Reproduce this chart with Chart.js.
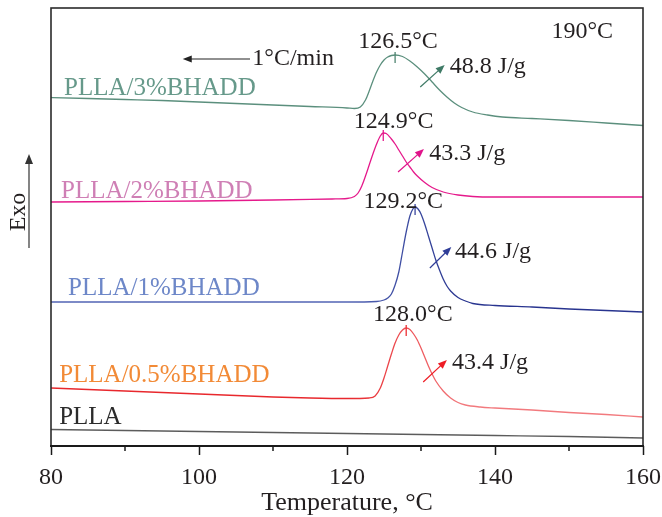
<!DOCTYPE html>
<html>
<head>
<meta charset="utf-8">
<script src="https://cdn.jsdelivr.net/npm/chart.js@4.4.1/dist/chart.umd.min.js"></script>
<style>
html,body{margin:0;padding:0;background:#ffffff;}
canvas{display:block;}
</style>
</head>
<body>
<canvas id="chart" width="662" height="517"></canvas>
<script>
// ---- Data (temperature in °C, heat flow in arbitrary units, Exo up) ----
const xTickValues = [80, 90, 100, 110, 120, 130, 140, 150, 160];
const xLabelValues = [80, 100, 120, 140, 160];

const tempPLLA = [80, 90, 100, 110, 120, 130, 140, 150, 160];
const heatPLLA = [1.65, 1.55, 1.45, 1.35, 1.25, 1.15, 1.05, 0.95, 0.8];

const temp05 = [80, 85, 90, 95, 100, 105, 110, 115, 120, 123, 123.8, 124.5, 125, 125.5, 126, 126.5, 127, 127.5, 128, 128.5, 129, 129.5, 130, 130.5, 131, 131.5, 132, 133, 134, 135, 136, 138, 140, 145, 150, 155, 160];
const heat05 = [5.8, 5.65, 5.5, 5.35, 5.2, 5.05, 4.9, 4.8, 4.75, 4.8, 5.0, 5.8, 6.8, 8.0, 9.2, 10.3, 11.1, 11.6, 11.8, 11.65, 11.2, 10.6, 9.8, 8.9, 8.0, 7.2, 6.5, 5.5, 4.8, 4.35, 4.1, 3.9, 3.8, 3.6, 3.35, 3.15, 2.9];

const temp1 = [80, 90, 100, 110, 120, 124, 125, 125.5, 126, 126.5, 127, 127.5, 128, 128.5, 128.9, 129.2, 129.6, 130, 130.5, 131, 131.5, 132, 132.5, 133, 133.5, 134, 135, 136, 137, 140, 145, 150, 155, 160];
const heat1 = [14.4, 14.4, 14.4, 14.4, 14.4, 14.45, 14.6, 14.8, 15.2, 16.1, 17.4, 19.4, 21.4, 23.0, 23.7, 23.9, 23.7, 23.2, 22.2, 21.0, 19.8, 18.6, 17.6, 16.7, 16.0, 15.5, 14.85, 14.5, 14.25, 14.05, 13.9, 13.7, 13.55, 13.4];

const temp2 = [80, 90, 100, 110, 118, 120, 121, 121.5, 122, 122.5, 123, 123.5, 124, 124.5, 124.9, 125.3, 126, 126.5, 127, 127.5, 128, 128.5, 129, 129.5, 130.5, 131.5, 133, 135, 137, 140, 150, 160];
const heat2 = [24.4, 24.45, 24.5, 24.6, 24.7, 24.75, 24.95, 25.3, 26.0, 27.0, 28.1, 29.2, 30.2, 31.0, 31.3, 31.25, 30.7, 30.2, 29.6, 29.0, 28.4, 27.9, 27.4, 27.0, 26.35, 25.85, 25.4, 25.1, 24.95, 24.9, 24.9, 24.9];

const temp3 = [80, 85, 90, 95, 100, 105, 110, 115, 120, 121, 121.8, 122.5, 123, 123.5, 124, 124.5, 125, 125.5, 126, 126.5, 127.5, 128.5, 129.5, 130.5, 131.5, 132.5, 133.5, 134.5, 135.5, 137, 139, 141, 145, 150, 155, 160];
const heat3 = [34.85, 34.75, 34.65, 34.55, 34.4, 34.25, 34.1, 33.95, 33.8, 33.75, 33.9, 34.6, 35.5, 36.5, 37.4, 38.1, 38.6, 38.9, 39.05, 39.1, 38.95, 38.5, 37.9, 37.2, 36.4, 35.6, 34.9, 34.3, 33.85, 33.4, 33.1, 32.9, 32.75, 32.55, 32.3, 32.05];

const seriesNames = ['PLLA', 'PLLA/0.5%BHADD', 'PLLA/1%BHADD', 'PLLA/2%BHADD', 'PLLA/3%BHADD'];
const peakTemps = [126.5, 124.9, 129.2, 128.0];
const peakHeats = [39.1, 31.3, 23.9, 11.8];
const peakLabels = ['126.5°C', '124.9°C', '129.2°C', '128.0°C'];
const enthalpyLabels = ['48.8 J/g', '43.3 J/g', '44.6 J/g', '43.4 J/g'];

// ---- Styles & annotation placement ----
const SERIF = '"Liberation Serif", "Times New Roman", serif';
const TEXT = '#231f20';
const lineColorsLeft = ['#5c5c5c', '#e8282d', '#5264b4', '#e5198b', '#5b8f7d'];
const lineColorsRight = ['#5c5c5c', '#f27a7e', '#28348f', '#e5198b', '#5b8f7d'];
const nameColors = ['#2b2b2b', '#f28a36', '#6d87c8', '#cf7fb5', '#66998a'];
const nameAnchors = [[81.1, 2.9], [81.1, 7.1], [82.3, 15.8], [81.35, 25.5], [81.76, 35.8]];
// peak annotations order: 3%, 2%, 1%, 0.5%
const peakColors = ['#4f8470', '#e5198b', '#3a479e', '#ee2f34'];
const arrowColors = ['#3f7a66', '#e0138a', '#2f3d98', '#ee1c25'];
const peakLabelAnchors = [[126.9, 40.4], [126.3, 32.4], [127.6, 24.4], [128.9, 13.1]];
const arrowFrom = [[129.9, 35.9], [126.9, 27.4], [131.2, 17.8], [130.3, 6.4]];
const arrowTo = [[133.2, 38.1], [130.4, 29.7], [134.1, 19.9], [133.5, 8.6]];
const enthalpyAnchors = [[133.9, 37.9], [131.1, 29.2], [134.6, 19.4], [134.2, 8.3]];

const temps = [tempPLLA, temp05, temp1, temp2, temp3];
const heats = [heatPLLA, heat05, heat1, heat2, heat3];

function lineColor(k) {
  return function(c) {
    const area = c.chart.chartArea;
    if (!area) return lineColorsLeft[k];
    const g = c.chart.ctx.createLinearGradient(area.left, 0, area.right, 0);
    g.addColorStop(0, lineColorsLeft[k]);
    g.addColorStop(0.5, lineColorsLeft[k]);
    g.addColorStop(0.7, lineColorsRight[k]);
    g.addColorStop(1, lineColorsRight[k]);
    return g;
  };
}

const datasets = seriesNames.map((n, k) => ({
  label: n,
  data: temps[k].map((t, i) => ({x: t, y: heats[k][i]})),
  borderColor: lineColor(k),
  borderWidth: 1.3,
  pointRadius: 0,
  fill: false,
  cubicInterpolationMode: 'monotone'
}));

function arrow(ctx, x1, y1, x2, y2, color, head) {
  const ang = Math.atan2(y2 - y1, x2 - x1);
  ctx.strokeStyle = color; ctx.fillStyle = color; ctx.lineWidth = 1.2;
  ctx.beginPath(); ctx.moveTo(x1, y1);
  ctx.lineTo(x2 - Math.cos(ang) * head * 0.6, y2 - Math.sin(ang) * head * 0.6); ctx.stroke();
  ctx.beginPath();
  ctx.moveTo(x2, y2);
  ctx.lineTo(x2 - head * Math.cos(ang) + head * 0.4 * Math.sin(ang), y2 - head * Math.sin(ang) - head * 0.4 * Math.cos(ang));
  ctx.lineTo(x2 - head * Math.cos(ang) - head * 0.4 * Math.sin(ang), y2 - head * Math.sin(ang) + head * 0.4 * Math.cos(ang));
  ctx.closePath(); ctx.fill();
}

const decor = {
  id: 'decor',
  afterDraw(chart) {
    const {ctx, chartArea: a, scales: {x, y}} = chart;
    const X = v => x.getPixelForValue(v), Y = v => y.getPixelForValue(v);
    ctx.save();
    // frame
    ctx.strokeStyle = '#2b2b2b'; ctx.lineWidth = 1.6;
    ctx.strokeRect(a.left, a.top, a.right - a.left, a.bottom - a.top);
    ctx.lineWidth = 2.2; ctx.strokeStyle = '#1a1a1a';
    ctx.beginPath(); ctx.moveTo(a.left - 1, a.bottom); ctx.lineTo(a.right + 1, a.bottom); ctx.stroke();
    // minor ticks
    ctx.lineWidth = 1.5;
    xTickValues.filter(v => xLabelValues.indexOf(v) < 0).forEach(v => {
      const px = X(v);
      ctx.beginPath(); ctx.moveTo(px, a.bottom); ctx.lineTo(px, a.bottom + 5); ctx.stroke();
    });
    // peak marks
    peakTemps.forEach((t, i) => {
      const px = X(t), py = Y(peakHeats[i]);
      ctx.strokeStyle = peakColors[i]; ctx.lineWidth = 1.3;
      ctx.beginPath(); ctx.moveTo(px, py - 3); ctx.lineTo(px, py + 8); ctx.stroke();
    });
    // enthalpy arrows
    arrowFrom.forEach((f, i) => {
      arrow(ctx, X(f[0]), Y(f[1]), X(arrowTo[i][0]), Y(arrowTo[i][1]), arrowColors[i], 9);
    });
    // texts
    ctx.font = '24px ' + SERIF;
    ctx.textBaseline = 'middle';
    ctx.fillStyle = TEXT;
    ctx.textAlign = 'center';
    peakLabels.forEach((s, i) => ctx.fillText(s, X(peakLabelAnchors[i][0]), Y(peakLabelAnchors[i][1])));
    ctx.textAlign = 'left';
    enthalpyLabels.forEach((s, i) => ctx.fillText(s, X(enthalpyAnchors[i][0]), Y(enthalpyAnchors[i][1])));
    ctx.font = '25px ' + SERIF;
    seriesNames.forEach((s, i) => {
      ctx.fillStyle = nameColors[i];
      ctx.fillText(s, X(nameAnchors[i][0]), Y(nameAnchors[i][1]));
    });
    ctx.font = '24px ' + SERIF;
    ctx.fillStyle = TEXT;
    ctx.textAlign = 'center';
    ctx.fillText('190°C', X(151.8), Y(41.4));
    ctx.textAlign = 'left';
    ctx.fillText('1°C/min', X(107.2), Y(38.7));
    arrow(ctx, X(106.9), Y(38.7), X(97.8), Y(38.7), '#222', 9);
    // Exo axis label with arrow
    ctx.save();
    ctx.translate(a.left - 26, 212);
    ctx.rotate(-Math.PI / 2);
    ctx.textAlign = 'center'; ctx.textBaseline = 'alphabetic';
    ctx.fillStyle = TEXT;
    ctx.fillText('Exo', 0, 0);
    ctx.restore();
    arrow(ctx, a.left - 22, 248, a.left - 22, 154, '#333', 10);
    ctx.restore();
  }
};

new Chart(document.getElementById('chart'), {
  type: 'line',
  data: {datasets},
  options: {
    responsive: false,
    animation: false,
    devicePixelRatio: 1,
    layout: {padding: {left: 51, right: 19, top: 8, bottom: 0}},
    plugins: {legend: {display: false}, tooltip: {enabled: false}},
    scales: {
      x: {
        type: 'linear', min: 80, max: 160,
        afterBuildTicks(scale) { scale.ticks = xTickValues.map(v => ({value: v})); },
        ticks: {
          autoSkip: false, maxRotation: 0, padding: 8,
          font: {family: SERIF, size: 24}, color: TEXT,
          callback: v => (xLabelValues.indexOf(v) >= 0 ? String(v) : '')
        },
        grid: {
          drawOnChartArea: false, tickLength: 9, tickWidth: 1.5,
          tickColor: c => (c.tick && xLabelValues.indexOf(c.tick.value) >= 0 ? '#1a1a1a' : 'rgba(0,0,0,0)')
        },
        border: {display: false},
        title: {display: true, text: 'Temperature, °C', font: {family: SERIF, size: 26}, color: TEXT, padding: {top: 0, bottom: -2}},
        afterFit(scale) { scale.height = 71; scale.paddingLeft = 0; scale.paddingRight = 0; }
      },
      y: {type: 'linear', display: false, min: 0, max: 43.8}
    }
  },
  plugins: [decor]
});
</script>
</body>
</html>
